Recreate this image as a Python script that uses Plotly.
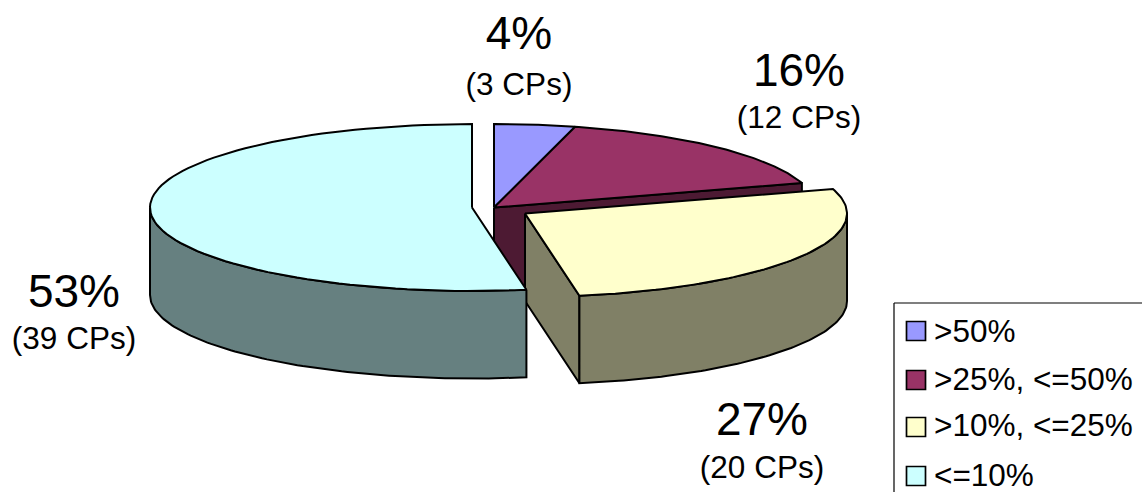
import numpy as np
import plotly.graph_objects as go

# ---- data ----
categories = [">50%", ">25%, <=50%", ">10%, <=25%", "<=10%"]
cp_counts = [3, 12, 20, 39]
percent_labels = ["4%", "16%", "27%", "53%"]
cp_labels = ["(3 CPs)", "(12 CPs)", "(20 CPs)", "(39 CPs)"]

# ---- styles and layout ----
W, H = 1142, 492
top_colors = ["#9999ff", "#993366", "#ffffcc", "#ccffff"]
side_colors = ["#4d4d80", "#4d1a33", "#808066", "#668080"]
centres = [(494, 207.5), (494, 207.5), (525, 213.5), (472, 207.5)]
RX, RY, DEPTH = 322, 83.5, 87.5
LW = 2
label_xy = [(519, 37, 87), (799, 74, 120), (762, 423, 470), (74, 295, 341)]
FONT = "Liberation Sans, Arial, sans-serif"
BIG, SMALL = 46, 31.5

total = sum(cp_counts)
edges = np.cumsum([0] + cp_counts) / total * 2 * np.pi


def rim(i, a, drop=0.0):
    cx, cy = centres[i]
    return cx + RX * np.sin(a), cy - RY * np.cos(a) + drop


fig = go.Figure()


def poly(xs, ys, color):
    fig.add_trace(go.Scatter(
        x=list(xs), y=list(ys), mode="lines", fill="toself", fillcolor=color,
        line=dict(color="black", width=LW), hoverinfo="skip", showlegend=False))


def top(i):
    a = np.linspace(edges[i], edges[i + 1], 90)
    x, y = rim(i, a)
    cx, cy = centres[i]
    poly(np.r_[cx, x, cx], np.r_[cy, y, cy], top_colors[i])


def cut_face(i, a):
    cx, cy = centres[i]
    x, y = rim(i, a)
    poly([cx, x, x, cx, cx], [cy, y, y + DEPTH, cy + DEPTH, cy], side_colors[i])


def outer_wall(i, a0, a1):
    a = np.linspace(a0, a1, 90)
    x, y = rim(i, a)
    poly(np.r_[x, x[::-1], x[0]], np.r_[y, y[::-1] + DEPTH, y[0]], side_colors[i])


# back to front: the maroon slice's cut face, the two rear tops,
# then the exploded yellow slice, then the exploded cyan slice
cut_face(1, edges[2])
top(0)
top(1)
cut_face(2, edges[3])
outer_wall(2, 0.5 * np.pi, edges[3])
top(2)
outer_wall(3, edges[3], 1.5 * np.pi)
top(3)

# percentage labels
for (px, y1, y2), pct, cp in zip(label_xy, percent_labels, cp_labels):
    fig.add_trace(go.Scatter(
        x=[px, px], y=[y1, y2], mode="text", text=[pct, cp],
        textposition="middle center",
        textfont=dict(family=FONT, size=[BIG, SMALL], color="black"),
        hoverinfo="skip", showlegend=False))

# legend panel
legend_left, legend_top = 894, 303
swatch_x, text_x = 916, 934
swatch_y = [331, 380, 427, 476]
text_y = [334, 382, 428, 478]
fig.add_shape(type="line", x0=legend_left, x1=W, y0=legend_top, y1=legend_top,
              line=dict(color="black", width=1.2))
fig.add_shape(type="line", x0=legend_left, x1=legend_left, y0=legend_top, y1=H,
              line=dict(color="black", width=1.2))
fig.add_trace(go.Scatter(
    x=[swatch_x] * 4, y=swatch_y, mode="markers",
    marker=dict(symbol="square", size=19, color=top_colors,
                line=dict(color="black", width=1.7)),
    hoverinfo="skip", showlegend=False))
fig.add_trace(go.Scatter(
    x=[text_x] * 4, y=text_y, mode="text", text=categories,
    textposition="middle right",
    textfont=dict(family=FONT, size=SMALL, color="black"),
    hoverinfo="skip", showlegend=False))

fig.update_layout(
    width=W, height=H, margin=dict(l=0, r=0, t=0, b=0),
    paper_bgcolor="white", plot_bgcolor="white", showlegend=False,
    xaxis=dict(range=[0, W], visible=False, fixedrange=True),
    yaxis=dict(range=[H, 0], visible=False, fixedrange=True),
)
fig.write_html("out.html", config=dict(displayModeBar=False),
               post_script="document.body.style.margin='0';document.body.style.overflow='hidden';")
